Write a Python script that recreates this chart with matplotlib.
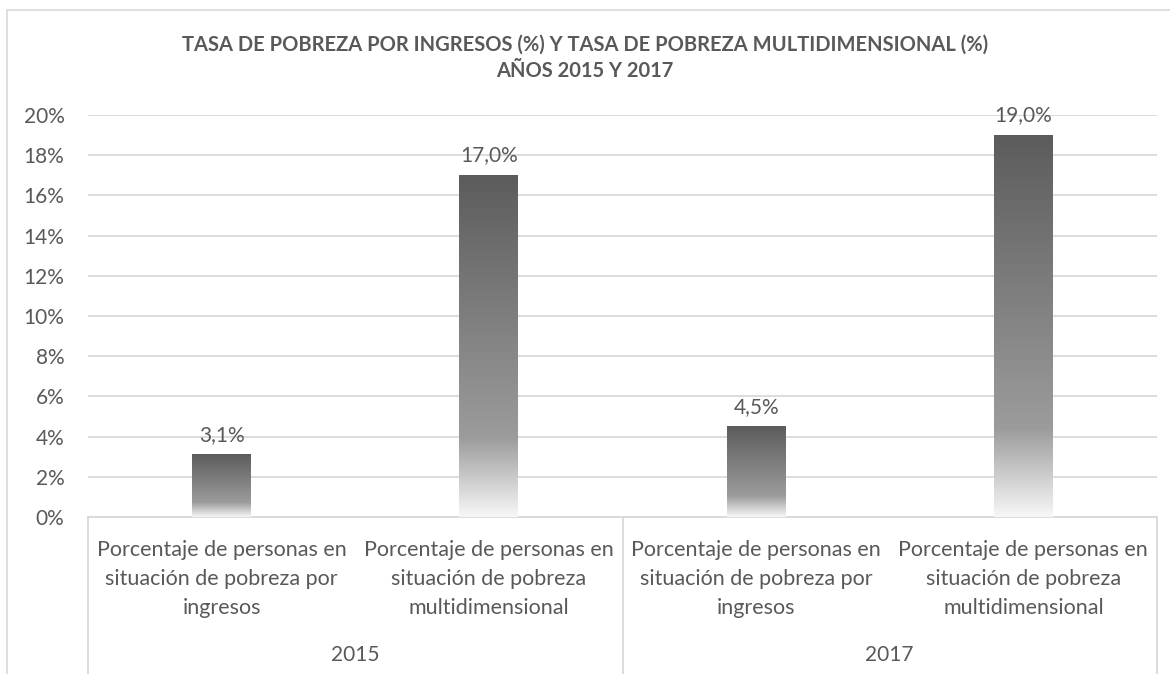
import numpy as np
import matplotlib
matplotlib.use("Agg")
import matplotlib.pyplot as plt
from matplotlib.colors import LinearSegmentedColormap
from matplotlib.patches import Rectangle

years = ["2015", "2017"]
categories = [
    "Porcentaje de personas en\nsituación de pobreza por\ningresos",
    "Porcentaje de personas en\nsituación de pobreza\nmultidimensional",
    "Porcentaje de personas en\nsituación de pobreza por\ningresos",
    "Porcentaje de personas en\nsituación de pobreza\nmultidimensional",
]
values = [3.1, 17.0, 4.5, 19.0]
yticks = [0, 2, 4, 6, 8, 10, 12, 14, 16, 18, 20]

title = "TASA DE POBREZA POR INGRESOS (%) Y TASA DE POBREZA MULTIDIMENSIONAL (%)\nAÑOS 2015 Y 2017"

FONT = "Lato"
TXT = "#595959"
GRID = "#d9d9d9"

plt.rcParams["font.family"] = [FONT, "DejaVu Sans"]

fig = plt.figure(figsize=(11.7, 6.74), dpi=100)
# outer chart border
fig.patches.append(Rectangle((7 / 1170, -0.1), 1.2, 1 - 10 / 674 + 0.1,
                             transform=fig.transFigure, fill=False,
                             edgecolor=GRID, lw=1.2))

ax = fig.add_axes([88 / 1170, 157 / 674, (1157 - 88) / 1170, (517 - 115) / 674])

x = np.arange(len(values))
bars = ax.bar(x, values, width=0.22, color="none", zorder=3)

# gradient: dark at top, fading to white at the bottom
cmap = LinearSegmentedColormap.from_list(
    "g", [(0.0, "#5c5c5c"), (0.77, "#9c9c9c"), (1.0, "#f7f7f7")])
grad = np.linspace(0, 1, 256).reshape(-1, 1)
for b, v in zip(bars, values):
    x0 = b.get_x()
    ax.imshow(grad, cmap=cmap, aspect="auto", zorder=3,
              extent=(x0, x0 + b.get_width(), 0, v), origin="upper")
    ax.annotate(f"{v:.1f}%".replace(".", ","), (b.get_x() + b.get_width() / 2, v),
                xytext=(0, 7), textcoords="offset points", ha="center", va="bottom",
                fontsize=15, color=TXT)

ax.set_xlim(-0.5, len(values) - 0.5)
ax.set_ylim(0, 20)
ax.set_yticks(yticks)
ax.set_yticklabels([f"{t}%" for t in yticks], fontsize=15, color=TXT)
ax.tick_params(axis="y", length=0, pad=17)
ax.set_xticks([])
ax.grid(axis="y", color=GRID, lw=1.3, zorder=0)
ax.set_axisbelow(True)
for s in ["top", "right", "left"]:
    ax.spines[s].set_visible(False)
ax.spines["bottom"].set_color(GRID)
ax.spines["bottom"].set_linewidth(1.3)

# two-level category axis
trans = ax.get_xaxis_transform()
for i, lab in enumerate(categories):
    ax.text(i, -0.058, lab, transform=trans, ha="center", va="top",
            fontsize=15.5, color=TXT, linespacing=1.55)
for j, yr in enumerate(years):
    ax.text(2 * j + 0.5, -0.343, yr, transform=trans, ha="center", va="center",
            fontsize=15, color=TXT)
for xs in [-0.5, 1.5, 3.5]:
    ax.plot([xs, xs], [0, -0.45], transform=trans, color=GRID, lw=1.3,
            clip_on=False)

fig.text(0.5, 1 - 58 / 674, title, ha="center", va="center", fontsize=14.5,
         fontweight="bold", color=TXT, linespacing=1.4)

fig.savefig("out.png", dpi=100)
